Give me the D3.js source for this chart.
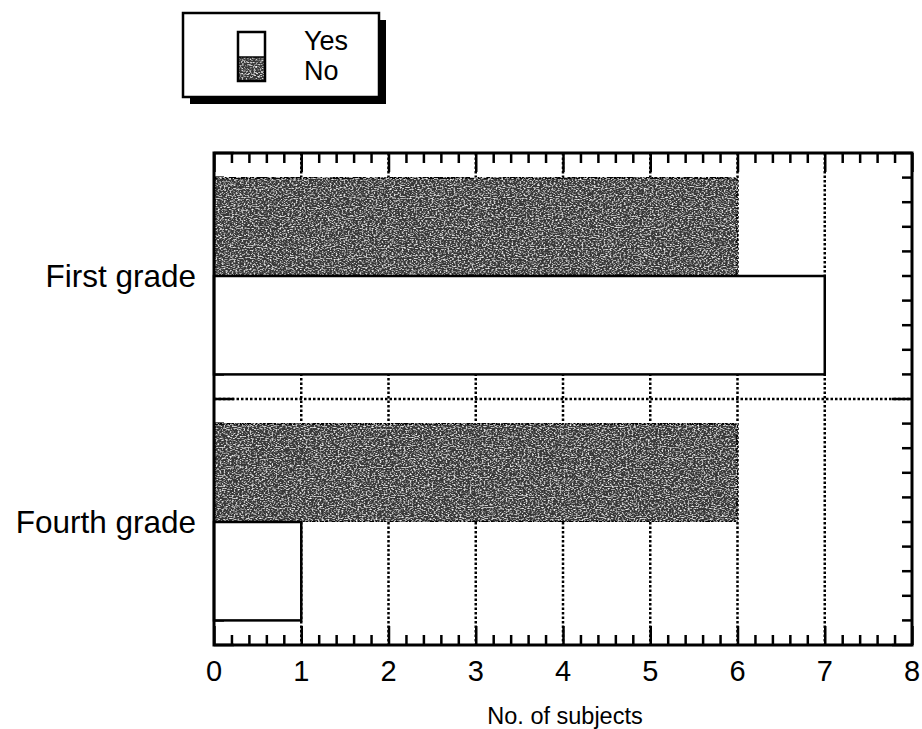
<!DOCTYPE html>
<html>
<head>
<meta charset="utf-8">
<script src="https://cdn.jsdelivr.net/npm/d3@7"></script>
<style>
  html, body { margin: 0; padding: 0; background: #fff; }
  svg { display: block; font-family: "Liberation Sans", Arial, Helvetica, sans-serif; }
</style>
</head>
<body>
<svg id="chart" width="922" height="729"></svg>
<script>
// ---- data ----
const grades = ["First grade", "Fourth grade"];
const series = ["No", "Yes"];
const noValues = [6, 6];
const yesValues = [7, 1];
const xTickValues = [0, 1, 2, 3, 4, 5, 6, 7, 8];
const legendLabels = ["Yes", "No"];
const xTitle = "No. of subjects";

// ---- layout ----
const W = 922, H = 729;
const margin = { top: 153, right: 10, bottom: 84, left: 214 };
const plotW = W - margin.left - margin.right;
const plotH = H - margin.top - margin.bottom;
const darkFill = "#383838";

const svg = d3.select("#chart");

// noise texture for the shaded bars
const defs = svg.append("defs");
const filt = defs.append("filter").attr("id", "grain")
  .attr("x", 0).attr("y", 0).attr("width", 1).attr("height", 1);
filt.append("feTurbulence").attr("type", "fractalNoise")
  .attr("baseFrequency", "0.5 0.9").attr("numOctaves", 2).attr("seed", 3).attr("result", "noise");
filt.append("feColorMatrix").attr("in", "noise").attr("type", "matrix")
  .attr("values", "0 0 0 0 1  0 0 0 0 1  0 0 0 0 1  2.6 0 0 0 -1.25").attr("result", "speck");
filt.append("feComposite").attr("in", "speck").attr("in2", "SourceGraphic").attr("operator", "in").attr("result", "speckIn");
const merge = filt.append("feMerge");
merge.append("feMergeNode").attr("in", "SourceGraphic");
merge.append("feMergeNode").attr("in", "speckIn");

const g = svg.append("g").attr("transform", `translate(${margin.left},${margin.top})`);

const x = d3.scaleLinear().domain([0, 8]).range([0, plotW]);
const y = d3.scaleBand().domain(grades).range([0, plotH]).padding(0);
const ySub = d3.scaleBand().domain(series).range([0, y.bandwidth()]).paddingInner(0).paddingOuter(0.25);

// ---- grid (dotted) ----
const grid = g.append("g").attr("stroke", "#000").attr("stroke-width", 2.5).attr("stroke-dasharray", "2.5,2");
grid.selectAll("line.v").data(xTickValues.slice(1, -1)).join("line").attr("class", "v")
  .attr("x1", d => x(d)).attr("x2", d => x(d)).attr("y1", 0).attr("y2", plotH);
grid.selectAll("line.h").data(grades.slice(1)).join("line").attr("class", "h")
  .attr("x1", 0).attr("x2", plotW).attr("y1", d => y(d)).attr("y2", d => y(d));

// ---- ticks (inward) ----
const minorX = d3.range(0, 8.0001, 0.2).map(v => +v.toFixed(1));
const isMajor = v => Math.abs(v - Math.round(v)) < 1e-6;

const bottomAxis = d3.axisBottom(x).tickValues(minorX).tickSizeInner(-10).tickSizeOuter(0).tickFormat("");
const topAxis = d3.axisTop(x).tickValues(minorX).tickSizeInner(-10).tickSizeOuter(0).tickFormat("");
const gb = g.append("g").attr("transform", `translate(0,${plotH})`).call(bottomAxis);
const gt = g.append("g").call(topAxis);
[gb, gt].forEach(ax => {
  ax.select(".domain").remove();
  ax.selectAll(".tick line").attr("stroke", "#000").attr("stroke-width", 2.5)
    .attr("y2", function(d) { const s = +d3.select(this).attr("y2"); return isMajor(d) ? s * 1.9 : s; });
});

// y minor ticks: 10 per band
const yMinor = d3.range(0, 2.0001, 0.1).map(v => +v.toFixed(1));
const yPos = d3.scaleLinear().domain([0, 2]).range([0, plotH]);
const yTicks = g.append("g").attr("stroke", "#000").attr("stroke-width", 2.5);
yTicks.selectAll("line.l").data(yMinor).join("line").attr("class", "l")
  .attr("x1", 0).attr("x2", d => isMajor(d) ? 20 : 10).attr("y1", d => yPos(d)).attr("y2", d => yPos(d));
yTicks.selectAll("line.r").data(yMinor).join("line").attr("class", "r")
  .attr("x1", plotW).attr("x2", d => plotW - (isMajor(d) ? 20 : 10)).attr("y1", d => yPos(d)).attr("y2", d => yPos(d));

// ---- bars ----
const bars = g.append("g");
grades.forEach((gr, i) => {
  bars.append("rect")
    .attr("x", x(0)).attr("y", y(gr) + ySub("No"))
    .attr("width", x(noValues[i]) - x(0)).attr("height", ySub.bandwidth())
    .attr("fill", darkFill).attr("stroke", "#000").attr("stroke-width", 2.5)
    .attr("filter", "url(#grain)");
  bars.append("rect")
    .attr("x", x(0)).attr("y", y(gr) + ySub("Yes"))
    .attr("width", x(yesValues[i]) - x(0)).attr("height", ySub.bandwidth())
    .attr("fill", "#fff").attr("stroke", "#000").attr("stroke-width", 2.5);
});

// ---- frame ----
g.append("rect").attr("x", 0).attr("y", 0).attr("width", plotW).attr("height", plotH)
  .attr("fill", "none").attr("stroke", "#000").attr("stroke-width", 3);

// ---- labels ----
g.append("g").selectAll("text").data(xTickValues).join("text")
  .attr("x", d => x(d)).attr("y", plotH + 36)
  .attr("text-anchor", "middle").attr("font-size", 29).attr("fill", "#000")
  .text(d => d);

g.append("g").selectAll("text").data(grades).join("text")
  .attr("x", -18).attr("y", d => y(d) + y.bandwidth() / 2 + 11)
  .attr("text-anchor", "end").attr("font-size", 31.5).attr("fill", "#000")
  .text(d => d);

svg.append("text").attr("x", margin.left + plotW / 2 + 2).attr("y", 724)
  .attr("text-anchor", "middle").attr("font-size", 23.5).attr("fill", "#000")
  .text(xTitle);

// ---- legend ----
const lg = svg.append("g");
lg.append("rect").attr("x", 190).attr("y", 20).attr("width", 196).attr("height", 84).attr("fill", "#000");
lg.append("rect").attr("x", 183).attr("y", 13).attr("width", 196).attr("height", 84)
  .attr("fill", "#fff").attr("stroke", "#000").attr("stroke-width", 2.5);
lg.append("rect").attr("x", 238).attr("y", 57).attr("width", 27).attr("height", 24)
  .attr("fill", darkFill).attr("filter", "url(#grain)");
lg.append("rect").attr("x", 238).attr("y", 32).attr("width", 27).attr("height", 49)
  .attr("fill", "none").attr("stroke", "#000").attr("stroke-width", 2.5);
lg.append("line").attr("x1", 238).attr("x2", 265).attr("y1", 57).attr("y2", 57)
  .attr("stroke", "#000").attr("stroke-width", 1.5);
lg.selectAll("text.lab").data(legendLabels).join("text").attr("class", "lab")
  .attr("x", 304).attr("y", (d, i) => 50 + i * 30)
  .attr("font-size", 27).attr("fill", "#000").text(d => d);
</script>
</body>
</html>
